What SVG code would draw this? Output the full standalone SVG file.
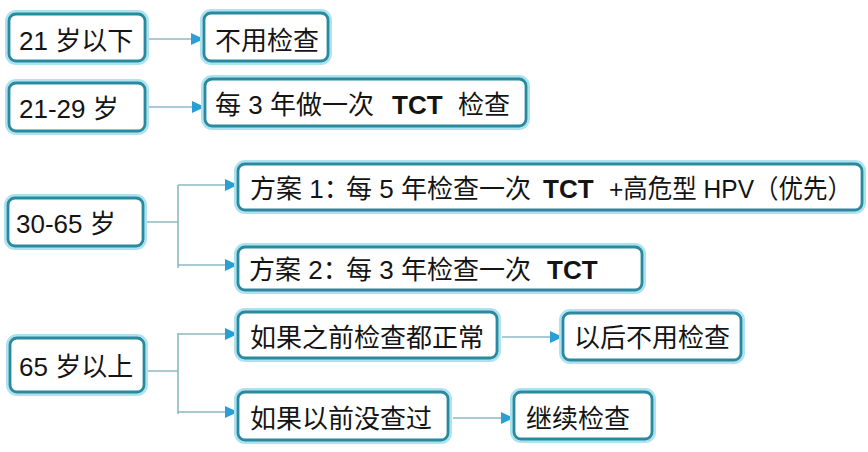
<svg xmlns="http://www.w3.org/2000/svg" width="868" height="452" viewBox="0 0 868 452">
<style>
.glow{fill:none;stroke:#aee2f1;stroke-width:8;}
.box{fill:#ffffff;stroke:#2a8a9d;stroke-width:2.8;}
.t{font-family:"Liberation Sans","Noto Sans CJK SC",sans-serif;font-size:26px;fill:#141414;}
.b{font-weight:bold;}
.ln{fill:none;stroke:#8cb9c4;stroke-width:1.6;}
</style>
<defs>
<marker id="ah" markerUnits="userSpaceOnUse" markerWidth="14" markerHeight="12" refX="13" refY="6" orient="auto">
<path d="M0,0 L13,6 L0,12 z" fill="#2a9fd6"/>
</marker>
</defs>
<rect width="868" height="452" fill="#ffffff"/>
<g id="connectors">
<line class="ln" x1="145" y1="39" x2="204" y2="39" marker-end="url(#ah)"/>
<line class="ln" x1="145" y1="107" x2="205" y2="107" marker-end="url(#ah)"/>
<polyline class="ln" points="143,222 178,222"/>
<polyline class="ln" points="178,185 178,268"/>
<line class="ln" x1="178" y1="185" x2="238" y2="185" marker-end="url(#ah)"/>
<line class="ln" x1="178" y1="265" x2="238" y2="265" marker-end="url(#ah)"/>
<polyline class="ln" points="144,371 178,371"/>
<polyline class="ln" points="178,333 178,414"/>
<line class="ln" x1="178" y1="334" x2="238" y2="334" marker-end="url(#ah)"/>
<line class="ln" x1="178" y1="412" x2="238" y2="412" marker-end="url(#ah)"/>
<line class="ln" x1="502" y1="337" x2="563" y2="337" marker-end="url(#ah)"/>
<line class="ln" x1="453" y1="418" x2="514" y2="418" marker-end="url(#ah)"/>
</g>
<g id="n1">
<rect class="glow" x="9" y="14" width="136" height="47" rx="7"/>
<rect class="box" x="9" y="14" width="136" height="47" rx="7"/>
<text class="t" x="19" y="50">21 岁以下</text>
</g>
<g id="n2">
<rect class="glow" x="204" y="13" width="124" height="48" rx="7"/>
<rect class="box" x="204" y="13" width="124" height="48" rx="7"/>
<text class="t" x="215" y="50">不用检查</text>
</g>
<g id="n3">
<rect class="glow" x="9" y="83" width="136" height="48" rx="7"/>
<rect class="box" x="9" y="83" width="136" height="48" rx="7"/>
<text class="t" x="19" y="118">21-29 岁</text>
</g>
<g id="n4">
<rect class="glow" x="205" y="79" width="321" height="47" rx="7"/>
<rect class="box" x="205" y="79" width="321" height="47" rx="7"/>
<text class="t" y="114"><tspan x="215">每 3 年做一次</tspan><tspan class="b" x="392">TCT</tspan><tspan x="458">检查</tspan></text>
</g>
<g id="n5">
<rect class="glow" x="8" y="198" width="135" height="48" rx="7"/>
<rect class="box" x="8" y="198" width="135" height="48" rx="7"/>
<text class="t" x="16" y="233">30-65 岁</text>
</g>
<g id="n6">
<rect class="glow" x="238" y="164" width="624" height="46" rx="7"/>
<rect class="box" x="238" y="164" width="624" height="46" rx="7"/>
<text class="t" y="198"><tspan x="250">方案 1：</tspan><tspan x="346">每 5 年检查一次</tspan><tspan class="b" x="543">TCT</tspan><tspan x="609" textLength="243" lengthAdjust="spacingAndGlyphs">+高危型 HPV（优先）</tspan></text>
</g>
<g id="n7">
<rect class="glow" x="238" y="247" width="404" height="43" rx="7"/>
<rect class="box" x="238" y="247" width="404" height="43" rx="7"/>
<text class="t" y="279"><tspan x="249">方案 2：</tspan><tspan x="346">每 3 年检查一次</tspan><tspan class="b" x="547">TCT</tspan></text>
</g>
<g id="n8">
<rect class="glow" x="10" y="338" width="134" height="54" rx="7"/>
<rect class="box" x="10" y="338" width="134" height="54" rx="7"/>
<text class="t" x="19" y="376">65 岁以上</text>
</g>
<g id="n9">
<rect class="glow" x="238" y="312" width="259" height="46" rx="7"/>
<rect class="box" x="238" y="312" width="259" height="46" rx="7"/>
<text class="t" x="250" y="347">如果之前检查都正常</text>
</g>
<g id="n10">
<rect class="glow" x="563" y="313" width="178" height="47" rx="7"/>
<rect class="box" x="563" y="313" width="178" height="47" rx="7"/>
<text class="t" x="574" y="347">以后不用检查</text>
</g>
<g id="n11">
<rect class="glow" x="238" y="392" width="210" height="48" rx="7"/>
<rect class="box" x="238" y="392" width="210" height="48" rx="7"/>
<text class="t" x="250" y="428">如果以前没查过</text>
</g>
<g id="n12">
<rect class="glow" x="514" y="392" width="138" height="47" rx="7"/>
<rect class="box" x="514" y="392" width="138" height="47" rx="7"/>
<text class="t" x="526" y="428">继续检查</text>
</g>
</svg>
